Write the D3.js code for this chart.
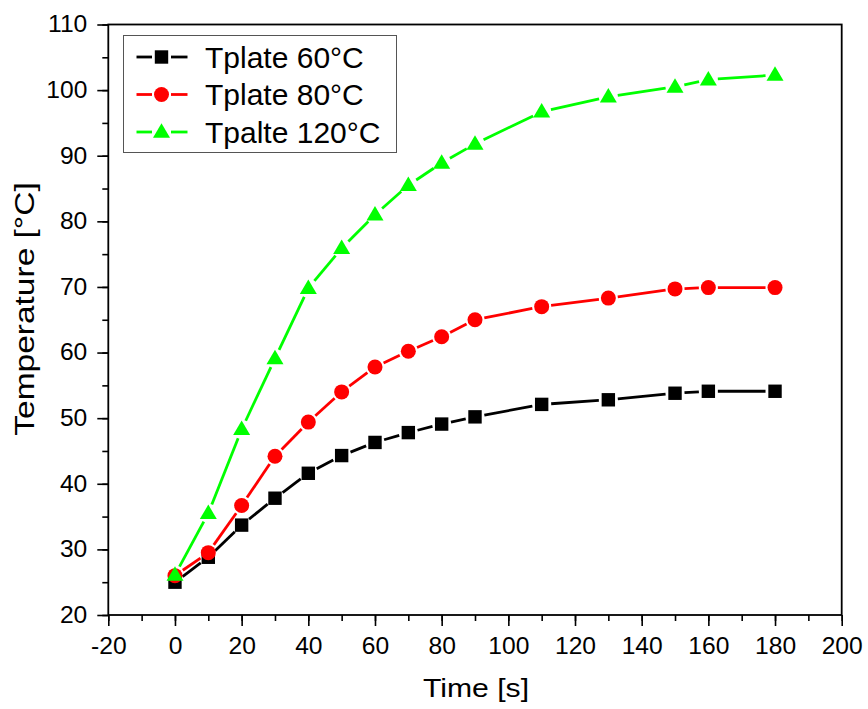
<!DOCTYPE html>
<html>
<head>
<meta charset="utf-8">
<script src="https://cdn.jsdelivr.net/npm/d3@7"></script>
<style>
  html, body { margin: 0; padding: 0; background: #fff; }
  svg { display: block; font-family: "Liberation Sans", Arial, sans-serif; }
</style>
</head>
<body>
<svg id="chart" width="868" height="709"></svg>
<script>
// Sampling times (s)
const times = [0, 10, 20, 30, 40, 50, 60, 70, 80, 90, 110, 130, 150, 160, 180];

// Measured temperatures (°C) for each plate setting
const plate60 = [25.0, 28.8, 33.7, 37.8, 41.6, 44.3, 46.3, 47.8, 49.1, 50.2, 52.1, 52.8, 53.8, 54.1, 54.1];
const plate80 = [26.0, 29.5, 36.7, 44.2, 49.4, 54.0, 57.8, 60.2, 62.4, 65.0, 67.0, 68.3, 69.7, 69.9, 69.9];
const plate120 = [26.1, 35.5, 48.3, 59.1, 69.8, 75.9, 81.0, 85.5, 88.9, 91.8, 96.7, 99.0, 100.5, 101.6, 102.3];

const seriesNames = ["Tplate 60°C", "Tplate 80°C", "Tpalte 120°C"];
const seriesColors = ["#000000", "#ff0000", "#00ff00"];
const seriesShapes = ["square", "circle", "triangle"];

const xTicks = [-20, 0, 20, 40, 60, 80, 100, 120, 140, 160, 180, 200];
const yTicks = [20, 30, 40, 50, 60, 70, 80, 90, 100, 110];

const svg = d3.select("#chart");
const plotL = 108.3, plotR = 841.7, plotT = 24.5, plotB = 615;

const x = d3.scaleLinear().domain([-20, 200]).range([plotL, plotR]);
const y = d3.scaleLinear().domain([20, 110]).range([plotB, plotT]);

// Plain hyphen for negative labels
const fmt = d => String(d);

// Widen text horizontally by factor k
function stretch(sel, k) {
  sel.each(function () {
    const L = this.getComputedTextLength();
    d3.select(this).attr("textLength", L * k).attr("lengthAdjust", "spacingAndGlyphs");
  });
}

// Axes with outward ticks: major + minor
const xMinor = d3.range(-20, 201, 10);
const yMinor = d3.range(20, 111, 5);

const gx = svg.append("g").attr("transform", `translate(0,${plotB})`);
gx.call(d3.axisBottom(x).tickValues(xMinor).tickSize(6).tickFormat(""))
  .call(g => g.select(".domain").remove());
gx.append("g").call(d3.axisBottom(x).tickValues(xTicks).tickSize(11).tickPadding(12).tickFormat(fmt))
  .call(g => g.select(".domain").remove())
  .call(g => g.selectAll("text").attr("font-size", 23).attr("fill", "#000").attr("font-family", "Liberation Sans, Arial, sans-serif"));
gx.selectAll("line").attr("stroke", "#000").attr("stroke-width", 1.6);
stretch(gx.selectAll("text"), 1.07);

const gy = svg.append("g").attr("transform", `translate(${plotL},0)`);
gy.call(d3.axisLeft(y).tickValues(yMinor).tickSize(6).tickFormat(""))
  .call(g => g.select(".domain").remove());
gy.append("g").call(d3.axisLeft(y).tickValues(yTicks).tickSize(11).tickPadding(10).tickFormat(fmt))
  .call(g => g.select(".domain").remove())
  .call(g => g.selectAll("text").attr("font-size", 23).attr("fill", "#000").attr("font-family", "Liberation Sans, Arial, sans-serif"));
gy.selectAll("line").attr("stroke", "#000").attr("stroke-width", 1.6);
stretch(gy.selectAll("text"), 1.07);

// Plot frame
svg.append("rect")
  .attr("x", plotL).attr("y", plotT)
  .attr("width", plotR - plotL).attr("height", plotB - plotT)
  .attr("fill", "none").attr("stroke", "#000").attr("stroke-width", 1.8);

// Axis titles
svg.append("text")
  .attr("x", 476).attr("y", 697)
  .attr("text-anchor", "middle").attr("font-size", 26).attr("fill", "#000")
  .text("Time [s]")
  .call(s => stretch(s, 1.16));
svg.append("text")
  .attr("transform", "translate(34,309) rotate(-90)")
  .attr("text-anchor", "middle").attr("font-size", 27).attr("fill", "#000")
  .text("Temperature [°C]")
  .call(s => stretch(s, 1.24));

// Marker drawing
function drawMarker(g, shape, cx, cy, color) {
  if (shape === "square") {
    g.append("rect").attr("x", cx - 6.7).attr("y", cy - 6.7)
      .attr("width", 13.4).attr("height", 13.4).attr("fill", color);
  } else if (shape === "circle") {
    g.append("circle").attr("cx", cx).attr("cy", cy).attr("r", 7.5).attr("fill", color);
  } else {
    const h = 14.5, w = 17;
    g.append("path")
      .attr("d", `M${cx},${cy - h * 0.6} L${cx + w / 2},${cy + h * 0.4} L${cx - w / 2},${cy + h * 0.4} Z`)
      .attr("fill", color);
  }
}

// Line segments broken around markers
function drawGappedLine(g, pts, color, gap) {
  for (let i = 0; i < pts.length - 1; i++) {
    const [x1, y1] = pts[i], [x2, y2] = pts[i + 1];
    const dx = x2 - x1, dy = y2 - y1, len = Math.hypot(dx, dy);
    if (len <= 2 * gap) continue;
    const ux = dx / len, uy = dy / len;
    g.append("line")
      .attr("x1", x1 + ux * gap).attr("y1", y1 + uy * gap)
      .attr("x2", x2 - ux * gap).attr("y2", y2 - uy * gap)
      .attr("stroke", color).attr("stroke-width", 2.8);
  }
}

const allSeries = [plate60, plate80, plate120];
const plotG = svg.append("g");
allSeries.forEach((vals, si) => {
  const pts = times.map((t, i) => [x(t), y(vals[i])]);
  const sg = plotG.append("g");
  drawGappedLine(sg, pts, seriesColors[si], 9.5);
  pts.forEach(([px, py]) => drawMarker(sg, seriesShapes[si], px, py, seriesColors[si]));
});

// Legend
const leg = svg.append("g");
leg.append("rect")
  .attr("x", 123.5).attr("y", 35.5).attr("width", 273).attr("height", 117)
  .attr("fill", "#fff").attr("stroke", "#555").attr("stroke-width", 1);
const rowY = [57, 94.5, 132];
seriesNames.forEach((name, i) => {
  const ry = rowY[i];
  drawGappedLine(leg, [[127, ry], [161.5, ry], [197, ry]], seriesColors[i], 9.5);
  drawMarker(leg, seriesShapes[i], 161.5, ry, seriesColors[i]);
  leg.append("text")
    .attr("x", 205).attr("y", ry + 10.5)
    .attr("font-size", 30).attr("fill", "#000")
    .text(name);
});
</script>
</body>
</html>
